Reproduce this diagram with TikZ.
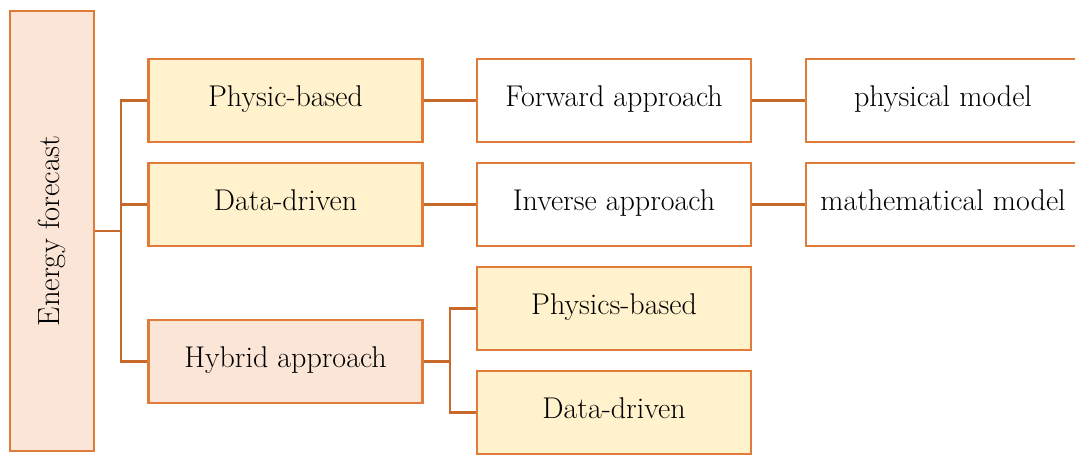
\documentclass[tikz,border=0pt]{standalone}
\usepackage{xcolor}
\definecolor{boxline}{HTML}{E07B39}
\definecolor{wireline}{HTML}{C8682A}
\definecolor{peach}{HTML}{FBE5D6}
\definecolor{cream}{HTML}{FFF2CC}
\begin{document}
\begin{tikzpicture}[x=0.5pt,y=-0.5pt,
  box/.style={draw=boxline,line width=1.2pt,rectangle,inner sep=0pt,
    minimum width=137pt,minimum height=41.5pt,
    font=\fontsize{15}{17}\selectfont,text height=1.75ex,text depth=.3ex},
  wire/.style={draw=wireline,line width=1.1pt}]
\clip (0,0) rectangle (1075,456);
% root column
\node[box,fill=peach,minimum width=42pt,minimum height=220pt,
  text height=,text depth=] (E) at (52,231)
  {\rotatebox{90}{\fontsize{15.3}{17}\selectfont Energy forecast}};
% first level
\node[box,fill=cream] (PB) at (285.5,100.5) {Physic-based};
\node[box,fill=cream] (DD) at (285.5,204.5) {Data-driven};
\node[box,fill=peach] (HY) at (285.5,361.5) {Hybrid approach};
% second level
\node[box,fill=white] (FA) at (614,100.5) {Forward approach};
\node[box,fill=white] (IA) at (614,204.5) {Inverse approach};
\node[box,fill=cream] (PS) at (614,308.5) {Physics-based};
\node[box,fill=cream] (DD2) at (614,412.5) {Data-driven};
% third level
\node[box,fill=white] (PM) at (943,100.5) {physical model};
\node[box,fill=white] (MM) at (943,204.5) {mathematical model};
% connectors
\coordinate (j1) at (121,231);
\coordinate (j2) at (450,361.5);
\draw[wire] (E.east) -- (j1);
\draw[wire] (j1) |- (PB.west);
\draw[wire] (j1) |- (DD.west);
\draw[wire] (j1) |- (HY.west);
\draw[wire] (HY.east) -- (j2);
\draw[wire] (j2) |- (PS.west);
\draw[wire] (j2) |- (DD2.west);
\draw[wire] (PB.east) -- (FA.west);
\draw[wire] (DD.east) -- (IA.west);
\draw[wire] (FA.east) -- (PM.west);
\draw[wire] (IA.east) -- (MM.west);
\end{tikzpicture}
\end{document}
